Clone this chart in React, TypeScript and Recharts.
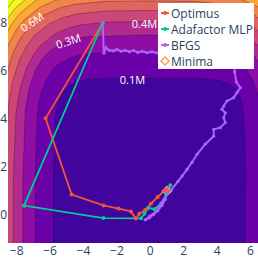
import React from 'react';
import { ComposedChart, Area, Line, Scatter, XAxis, YAxis, Legend } from 'recharts';

// ---- axes ----
const xTicks = [-8, -6, -4, -2, 0, 2, 4, 6];
const yTicks = [0, 2, 4, 6, 8];
const xDomain: [number, number] = [-8.52, 6.45];
const yDomain: [number, number] = [-1.167, 8.958];
const FLOOR = -3;

// ---- contour level boundaries (upper edge of each level's interior) ----
const contour01 = [[-5.8,-3],[-5.8,1.5],[-5.68,4.13],[-5.51,4.7],[-5.22,5.12],[-4.93,5.34],[-4.64,5.47],[-4.06,5.61],[-3.48,5.67],[-2.9,5.69],[0,5.7],[2.85,5.69],[3.42,5.67],[3.99,5.61],[4.56,5.5],[4.85,5.42],[5.13,5.25],[5.42,4.85],[5.59,4.25],[5.72,1.8],[5.65,-3]];
const contour02 = [[-6.9,-3],[-6.9,1.5],[-6.76,4.24],[-6.56,5.04],[-6.21,5.67],[-5.87,6.03],[-5.52,6.26],[-4.83,6.54],[-4.14,6.67],[-3.45,6.74],[0,6.78],[3.39,6.74],[4.07,6.67],[4.75,6.54],[5.42,6.26],[5.76,6.03],[6.1,5.67],[6.44,5.04],[6.64,4.24],[6.78,1.5],[6.78,-3]];
const contour03 = [[-7.63,-3],[-7.63,1.5],[-7.48,4.36],[-7.25,5.28],[-6.87,6.04],[-6.49,6.48],[-6.1,6.78],[-5.34,7.14],[-4.58,7.33],[-3.82,7.43],[0,7.5],[3.75,7.43],[4.5,7.33],[5.25,7.14],[6.0,6.78],[6.38,6.48],[6.75,6.04],[7.13,5.28],[7.5,1.5],[7.5,-3]];
const contour04 = [[-8.2,-3],[-8.2,1.5],[-8.04,4.25],[-7.79,5.29],[-7.38,6.17],[-6.97,6.7],[-6.56,7.07],[-5.74,7.53],[-4.92,7.79],[-4.1,7.93],[-2.46,8.04],[0,8.06],[2.42,8.04],[4.03,7.93],[4.84,7.79],[5.64,7.53],[6.45,7.07],[6.85,6.7],[7.25,6.17],[8.06,1.5],[8.06,-3]];
const contour05 = [[-8.67,-3],[-8.67,1.5],[-8.5,4.5],[-8.24,5.59],[-7.8,6.52],[-7.37,7.08],[-6.94,7.47],[-6.07,7.96],[-5.2,8.23],[-4.34,8.38],[-2.6,8.5],[0,8.52],[2.56,8.5],[4.26,8.38],[5.11,8.23],[5.96,7.96],[6.82,7.47],[7.67,6.52],[8.52,1.5],[8.52,-3]];
const contour06 = [[-9.08,-3],[-9.08,1.5],[-8.9,4.71],[-8.63,5.85],[-8.17,6.83],[-7.72,7.42],[-7.26,7.82],[-6.36,8.33],[-5.45,8.62],[-4.54,8.78],[-2.72,8.9],[0,8.92],[2.68,8.9],[4.46,8.78],[5.35,8.62],[6.24,8.33],[7.14,7.82],[8.03,6.83],[8.92,1.5],[8.92,-3]];
const contour07 = [[-9.43,-3],[-9.43,1.5],[-8.96,6.08],[-8.49,7.1],[-8.02,7.71],[-7.54,8.13],[-6.6,8.66],[-5.66,8.95],[-4.72,9.12],[0,9.27],[4.64,9.12],[5.56,8.95],[6.49,8.66],[7.42,8.13],[9.27,1.5],[9.27,-3]];
const contour08 = [[-9.75,-3],[-9.75,1.5],[-9.26,6.29],[-8.78,7.34],[-8.29,7.97],[-7.8,8.41],[-6.83,8.95],[-5.85,9.26],[0,9.59],[5.75,9.26],[6.71,8.95],[9.59,1.5],[9.59,-3]];
const contour09 = [[-10.05,-3],[-10.05,1.5],[-9.05,7.56],[-8.54,8.21],[-8.04,8.65],[-7.04,9.22],[0,9.87],[6.91,9.22],[9.87,1.5],[9.87,-3]];
const contour10 = [[-10.31,-3],[-10.31,1.5],[-9.28,7.77],[-8.76,8.43],[-8.25,8.89],[-7.22,9.47],[0,10.14],[7.1,9.47],[10.14,1.5],[10.14,-3]];
const backdrop = [[-11, 11], [11, 11]];

const contoursOuterFirst = [contour10, contour09, contour08, contour07, contour06, contour05, contour04, contour03, contour02, contour01];
const bandColorsOuterFirst = ['#f0f921', '#fcce25', '#fca636', '#f2844b', '#e16462', '#cc4778', '#b12a90', '#8f0da4', '#6a00a8', '#41049d'];
const topColor = '#f0f921';

// ---- contour labels ----
const contourLabels = [
  { x: -7.1, y: 8.05, text: '0.6M', angle: -34 },
  { x: -4.91, y: 7.26, text: '0.3M', angle: -18 },
  { x: -0.35, y: 7.96, text: '0.4M', angle: 0 },
  { x: -1.07, y: 5.63, text: '0.1M', angle: 0 },
];

// ---- optimizer paths ----
const optimusX = [-2.85, -6.27, -4.71, -2.8, -1.9, -1.16, -0.86, -0.66, -0.3, 0.04, 0.44, 0.84, 1.0];
const optimusY = [8.0, 4.03, 0.85, 0.4, 0.27, 0.15, -0.15, 0.05, 0.22, 0.47, 0.75, 1.02, 1.06];
const adafactorX = [-2.85, -7.56, -2.8, -0.55, -0.35, -0.1, 0.25, 0.65, 0.95, 1.2];
const adafactorY = [8.0, 0.39, -0.13, -0.14, 0.05, 0.3, 0.24, 0.48, 0.84, 1.24];
const bfgsX = [-2.85, -2.78, -2.65, -2.45, -2.2, -2.0, -1.75, -1.5, -1.25, -1.0, -0.75, -0.5, -0.2, 0.1, 0.4, 0.7, 1.0, 1.3, 1.6, 1.9, 2.2, 2.5, 2.8, 3.1, 3.4, 3.7, 4.0, 4.3, 4.6, 4.85, 5.05, 5.05, 5.15, 5.39, 5.19, 4.99, 4.59, 4.4, 4.29, 4.49, 4.4, 4.49, 4.19, 3.8, 3.8, 3.29, 2.8, 2.5, 2.2, 1.9, 1.66, 1.26, 1.06, 0.66, 0.36, -0.04, -0.3, -0.05, 0.2, 0.45, 0.7, 0.9, 1.0];
const bfgsY = [8.0, 6.74, 6.97, 6.86, 6.84, 6.9, 6.82, 6.86, 6.8, 6.85, 6.77, 6.82, 6.76, 6.8, 6.75, 6.78, 6.72, 6.77, 6.72, 6.76, 6.7, 6.74, 6.7, 6.73, 6.68, 6.72, 6.68, 6.71, 6.66, 6.7, 6.6, 5.97, 5.55, 5.3, 5.1, 4.89, 4.75, 4.54, 4.4, 4.26, 4.05, 3.85, 3.64, 3.57, 3.29, 2.95, 2.53, 2.2, 1.9, 1.62, 1.4, 1.05, 0.92, 0.5, 0.15, -0.05, -0.2, -0.12, 0.02, 0.18, 0.4, 0.65, 0.95];
const minimaX = [1.0];
const minimaY = [1.0];

const seriesNames = ['Optimus', 'Adafactor MLP', 'BFGS', 'Minima'];
const seriesColors = ['#EF553B', '#00CC96', '#AB63FA', '#FFA15A'];

const zipXY = (xs: number[], ys: number[]) => xs.map((x, i) => ({ x, y: ys[i] }));
const toArea = (pts: number[][]) => pts.map(([x, y]) => ({ x, band: [FLOOR, y] }));

const fontFamily = '"Open Sans", "Noto Sans", sans-serif';
const tickStyle = { fill: '#2a3f5f', fontSize: 12, fontFamily };
const fmt = (v: number) => (v < 0 ? '\u2212' + Math.abs(v) : String(v));

const ContourLabel = (props: any) => {
  const { cx, cy, payload } = props;
  return (
    <text x={cx} y={cy} transform={`rotate(${payload.angle} ${cx} ${cy})`} textAnchor="middle" dominantBaseline="central" fill="#ffffff" fontSize={11} fontFamily={fontFamily}>
      {payload.text}
    </text>
  );
};

const Diamond = (props: any) => {
  const { cx, cy } = props;
  const h = 4.5;
  return <polygon points={`${cx},${cy - h} ${cx + h},${cy} ${cx},${cy + h} ${cx - h},${cy}`} fill="none" stroke={seriesColors[3]} strokeWidth={1.5} />;
};

const LegendBox = () => (
  <div style={{ width: 96, height: 66, background: '#ffffff', paddingTop: 2, boxSizing: 'border-box', fontFamily, fontSize: 12, color: '#2a3f5f' }}>
    {seriesNames.map((name, i) => (
      <div key={name} style={{ display: 'flex', alignItems: 'center', height: 16, whiteSpace: 'nowrap' }}>
        <svg width={13} height={16} style={{ flex: 'none' }}>
          {i < 3 ? (
            <g>
              <line x1={3} x2={11} y1={8} y2={8} stroke={seriesColors[i]} strokeWidth={2} />
              <circle cx={7} cy={8} r={2} fill={seriesColors[i]} />
            </g>
          ) : (
            <polygon points="7,4 11,8 7,12 3,8" fill="none" stroke={seriesColors[3]} strokeWidth={1.5} />
          )}
        </svg>
        <span>{name}</span>
      </div>
    ))}
  </div>
);

export default function App() {
  const lineData = [zipXY(optimusX, optimusY), zipXY(adafactorX, adafactorY), zipXY(bfgsX, bfgsY)];
  return (
    <div style={{ position: 'absolute', left: 0, top: 0 }}>
      <ComposedChart width={258} height={258} margin={{ top: 0, right: 0, bottom: 0, left: 0 }}>
        <XAxis type="number" dataKey="x" domain={xDomain} allowDataOverflow ticks={xTicks} interval={0} tickFormatter={fmt} axisLine={false} tickLine={false} tickSize={0} tickMargin={3} height={15} tick={tickStyle} />
        <YAxis type="number" domain={yDomain} allowDataOverflow ticks={yTicks} interval={0} tickFormatter={fmt} axisLine={false} tickLine={false} tickSize={0} tickMargin={1} width={8} tick={tickStyle} />
        <Area data={toArea(backdrop)} dataKey="band" type="linear" fill={topColor} fillOpacity={1} stroke="none" isAnimationActive={false} legendType="none" />
        {contoursOuterFirst.map((c, i) => (
          <Area key={'c' + i} data={toArea(c)} dataKey="band" type="linear" fill={bandColorsOuterFirst[i]} fillOpacity={1} stroke="#1a0530" strokeOpacity={0.55} strokeWidth={0.6} isAnimationActive={false} legendType="none" activeDot={false} dot={false} />
        ))}
        <Scatter data={contourLabels} dataKey="y" shape={ContourLabel} isAnimationActive={false} legendType="none" />
        {lineData.map((d, i) => (
          <Line key={seriesNames[i]} name={seriesNames[i]} data={d} dataKey="y" type="linear" stroke={seriesColors[i]} strokeWidth={i === 2 ? 2 : 1.8} dot={{ r: i === 2 ? 1.6 : 2, fill: seriesColors[i], stroke: seriesColors[i], strokeWidth: 0 }} activeDot={false} isAnimationActive={false} />
        ))}
        <Scatter name={seriesNames[3]} data={zipXY(minimaX, minimaY)} dataKey="y" shape={Diamond} isAnimationActive={false} />
        <Legend layout="vertical" align="center" verticalAlign="middle" content={LegendBox} wrapperStyle={{ left: 158, top: 3, width: 96, height: 66 }} />
      </ComposedChart>
    </div>
  );
}
